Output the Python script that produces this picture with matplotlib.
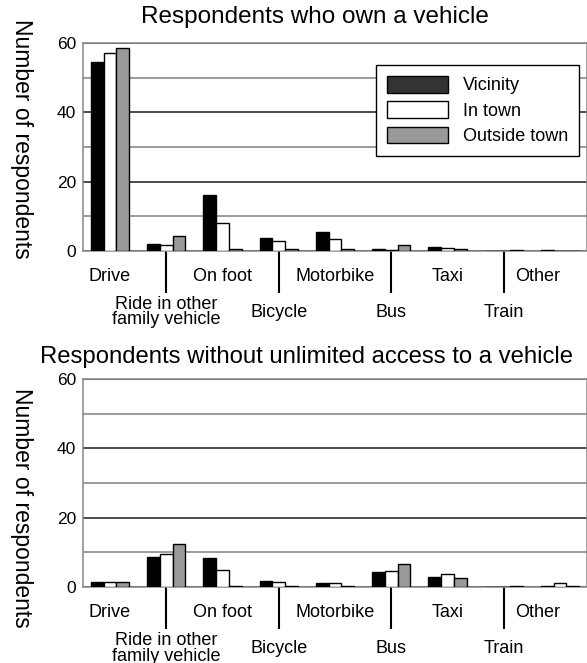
import numpy as np
import matplotlib.pyplot as plt
from matplotlib.patches import Patch
from matplotlib.transforms import offset_copy

plt.rcParams['font.family'] = ['Liberation Sans', 'DejaVu Sans']

categories = ['Drive', 'Ride in other\nfamily vehicle', 'On foot', 'Bicycle', 'Motorbike',
              'Bus', 'Taxi', 'Train', 'Other']
series = ['Vicinity', 'In town', 'Outside town']

# respondents who own a vehicle
own_vicinity = [54.4, 2.1, 16.3, 3.8, 5.4, 0.6, 1.1, 0.0, 0.3]
own_in_town = [57.1, 1.6, 8.2, 2.9, 3.6, 0.4, 1.0, 0.0, 0.0]
own_outside = [58.5, 4.2, 0.7, 0.6, 0.6, 1.6, 0.7, 0.3, 0.0]

# respondents without unlimited access to a vehicle
no_vicinity = [1.5, 8.6, 8.3, 1.8, 1.1, 4.3, 2.8, 0.0, 0.3]
no_in_town = [1.5, 9.4, 5.0, 1.4, 1.1, 4.6, 3.7, 0.0, 1.1]
no_outside = [1.5, 12.5, 0.4, 0.4, 0.4, 6.5, 2.7, 0.3, 0.3]

bar_colors = ['black', 'white', '#999999']
legend_colors = ['#333333', 'white', '#999999']

fig = plt.figure(figsize=(5.87, 6.63), dpi=100)
ax1 = fig.add_axes([0.1414, 0.6214, 0.8586, 0.3137])
ax2 = fig.add_axes([0.1414, 0.1146, 0.8586, 0.3137])

x = np.arange(len(categories))
w = 0.226

panels = [
    (ax1, [own_vicinity, own_in_town, own_outside]),
    (ax2, [no_vicinity, no_in_town, no_outside]),
]

for ax, data in panels:
    for k, vals in enumerate(data):
        ax.bar(x + (k - 1) * w, vals, width=w, color=bar_colors[k],
               edgecolor='black', linewidth=1.0, zorder=3)
    ax.set_xlim(-0.48, len(categories) - 1 + 0.48)
    ax.set_ylim(0, 60)
    ax.set_yticks([0, 20, 40, 60])
    ax.set_yticks([10, 30, 50], minor=True)
    ax.yaxis.grid(True, which='major', color='#1a1a1a', lw=1.1)
    ax.yaxis.grid(True, which='minor', color='#808080', lw=1.1)
    ax.set_axisbelow(True)
    ax.tick_params(axis='y', which='both', length=0, pad=5, labelsize=12.5)
    for s in ['top', 'left', 'bottom', 'right']:
        ax.spines[s].set_color('#888888')
        ax.spines[s].set_linewidth(1.1)
    # staggered category labels: odd ones get a leader line
    ax.set_xticks([])
    ax.set_xticks(x[1::2], minor=True)
    ax.tick_params(axis='x', which='minor', length=30, width=1.5, color='black',
                   direction='out', labelbottom=False)
    up = offset_copy(ax.get_xaxis_transform(), fig=fig, x=0, y=-25, units='dots')
    low = offset_copy(ax.get_xaxis_transform(), fig=fig, x=0, y=-61, units='dots')
    for i, lab in enumerate(categories):
        if i % 2 == 0:
            ha = 'right' if i == len(categories) - 1 else 'center'
            ax.text(x[i], 0, lab, transform=up, ha=ha, va='center', fontsize=13)
        else:
            ax.text(x[i], 0, lab, transform=low, ha='center', va='center',
                    fontsize=13, linespacing=0.92)

handles = [Patch(facecolor=c, edgecolor='black', linewidth=1.0) for c in legend_colors]
leg = ax1.legend(handles, series, loc='upper right', bbox_to_anchor=(0.984, 0.894),
                 borderaxespad=0, fontsize=13, handlelength=3.4, handleheight=1.05,
                 labelspacing=0.38, handletextpad=0.8, borderpad=0.6, fancybox=False,
                 framealpha=1, edgecolor='black')
leg.get_frame().set_linewidth(1.0)

fig.text(315 / 587, 1 - 23 / 663, 'Respondents who own a vehicle', ha='center',
         va='baseline', fontsize=17.5)
fig.text(306 / 587, 1 - 363 / 663, 'Respondents without unlimited access to a vehicle',
         ha='center', va='baseline', fontsize=17.2)
fig.text(21 / 587, 1 - 139 / 663, 'Number of respondents', rotation=270,
         ha='center', va='center', fontsize=16.5)
fig.text(21 / 587, 1 - 508 / 663, 'Number of respondents', rotation=270,
         ha='center', va='center', fontsize=16.5)

fig.savefig('out.png', dpi=100, facecolor='white')
